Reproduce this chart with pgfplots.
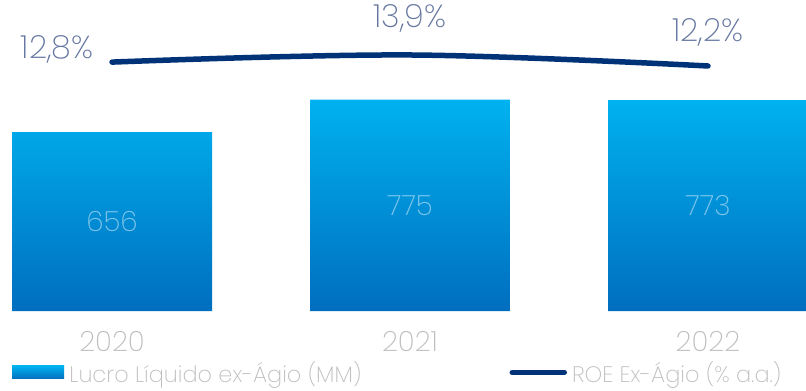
\documentclass[border=0pt]{standalone}
\usepackage{pgfplots}
\pgfplotsset{compat=1.18}
\usepackage{fontspec}
\setmainfont{Poppins ExtraLight}
\definecolor{barTop}{RGB}{0,178,240}
\definecolor{barBot}{RGB}{0,110,190}
\definecolor{navy}{RGB}{0,50,120}
\definecolor{pctGray}{RGB}{100,118,160}
\definecolor{lblGray}{RGB}{190,190,190}
\begin{document}
\begin{tikzpicture}
\begin{axis}[
  scale only axis, width=806bp, height=311bp,
  xmin=-0.376, xmax=2.329, ymin=0, ymax=1140,
  axis line style={draw=none}, tick style={draw=none},
  ytick=\empty, xtick={0,1,2}, xticklabels={2020,2021,2022},
  xticklabel style={font=\fontsize{28}{30}\selectfont, text=lblGray, yshift=-17bp},
  /pgf/number format/assume math mode=true,
  clip=true,
]
\addplot[ybar, bar width=0.671, draw=none, top color=barTop, bottom color=barBot]
  coordinates {(0,656) (1,775) (2,773)};
\node[text=white, opacity=0.5, font=\fontsize{28}{30}\selectfont] at (axis cs:0,328) {656};
\node[text=white, opacity=0.5, font=\fontsize{28}{30}\selectfont] at (axis cs:1,387.5) {775};
\node[text=white, opacity=0.5, font=\fontsize{28}{30}\selectfont] at (axis cs:2,386.5) {773};
\end{axis}
\begin{axis}[
  scale only axis, width=806bp, height=311bp,
  xmin=-0.376, xmax=2.329, ymin=-25.67, ymax=22.4,
  axis lines=none,
  legend columns=2,
  legend style={draw=none, fill=none, at={(0,0)}, anchor=north west, xshift=9bp, yshift=-46bp,
    font=\fontsize{22.5}{24}\selectfont, text=lblGray,
    /tikz/every even column/.append style={column sep=146bp},
    /tikz/every odd column/.append style={inner xsep=0pt},
    cells={anchor=west}},
]
\addlegendimage{legend image code/.code={\fill[top color=barTop, bottom color=barBot, draw=none] (0bp,-6.5bp) rectangle (52bp,6.5bp); \path (55bp,0bp);}}
\addlegendentry{Lucro Líquido ex-Ágio (MM)}
\addplot[smooth, tension=0.6, line width=5.5bp, color=navy, line cap=round,
  legend image code/.code={\draw[navy, line width=5.5bp, line cap=round] (0bp,0bp) -- (52bp,0bp); \path (55bp,0bp);}]
  coordinates {(0,12.8) (1,13.9) (2,12.2)};
\addlegendentry{ROE Ex-Ágio (\% a.a.)}
\node[text=pctGray, font=\fontsize{32}{34}\selectfont] at (axis cs:-0.184,14.7) {12,8\%};
\node[text=pctGray, font=\fontsize{32}{34}\selectfont] at (axis cs:1,19.5) {13,9\%};
\node[text=pctGray, font=\fontsize{32}{34}\selectfont] at (axis cs:2,17.4) {12,2\%};
\end{axis}
\pgfresetboundingbox
\path (0,-80bp) rectangle (806bp,311bp);
\end{tikzpicture}
\end{document}
